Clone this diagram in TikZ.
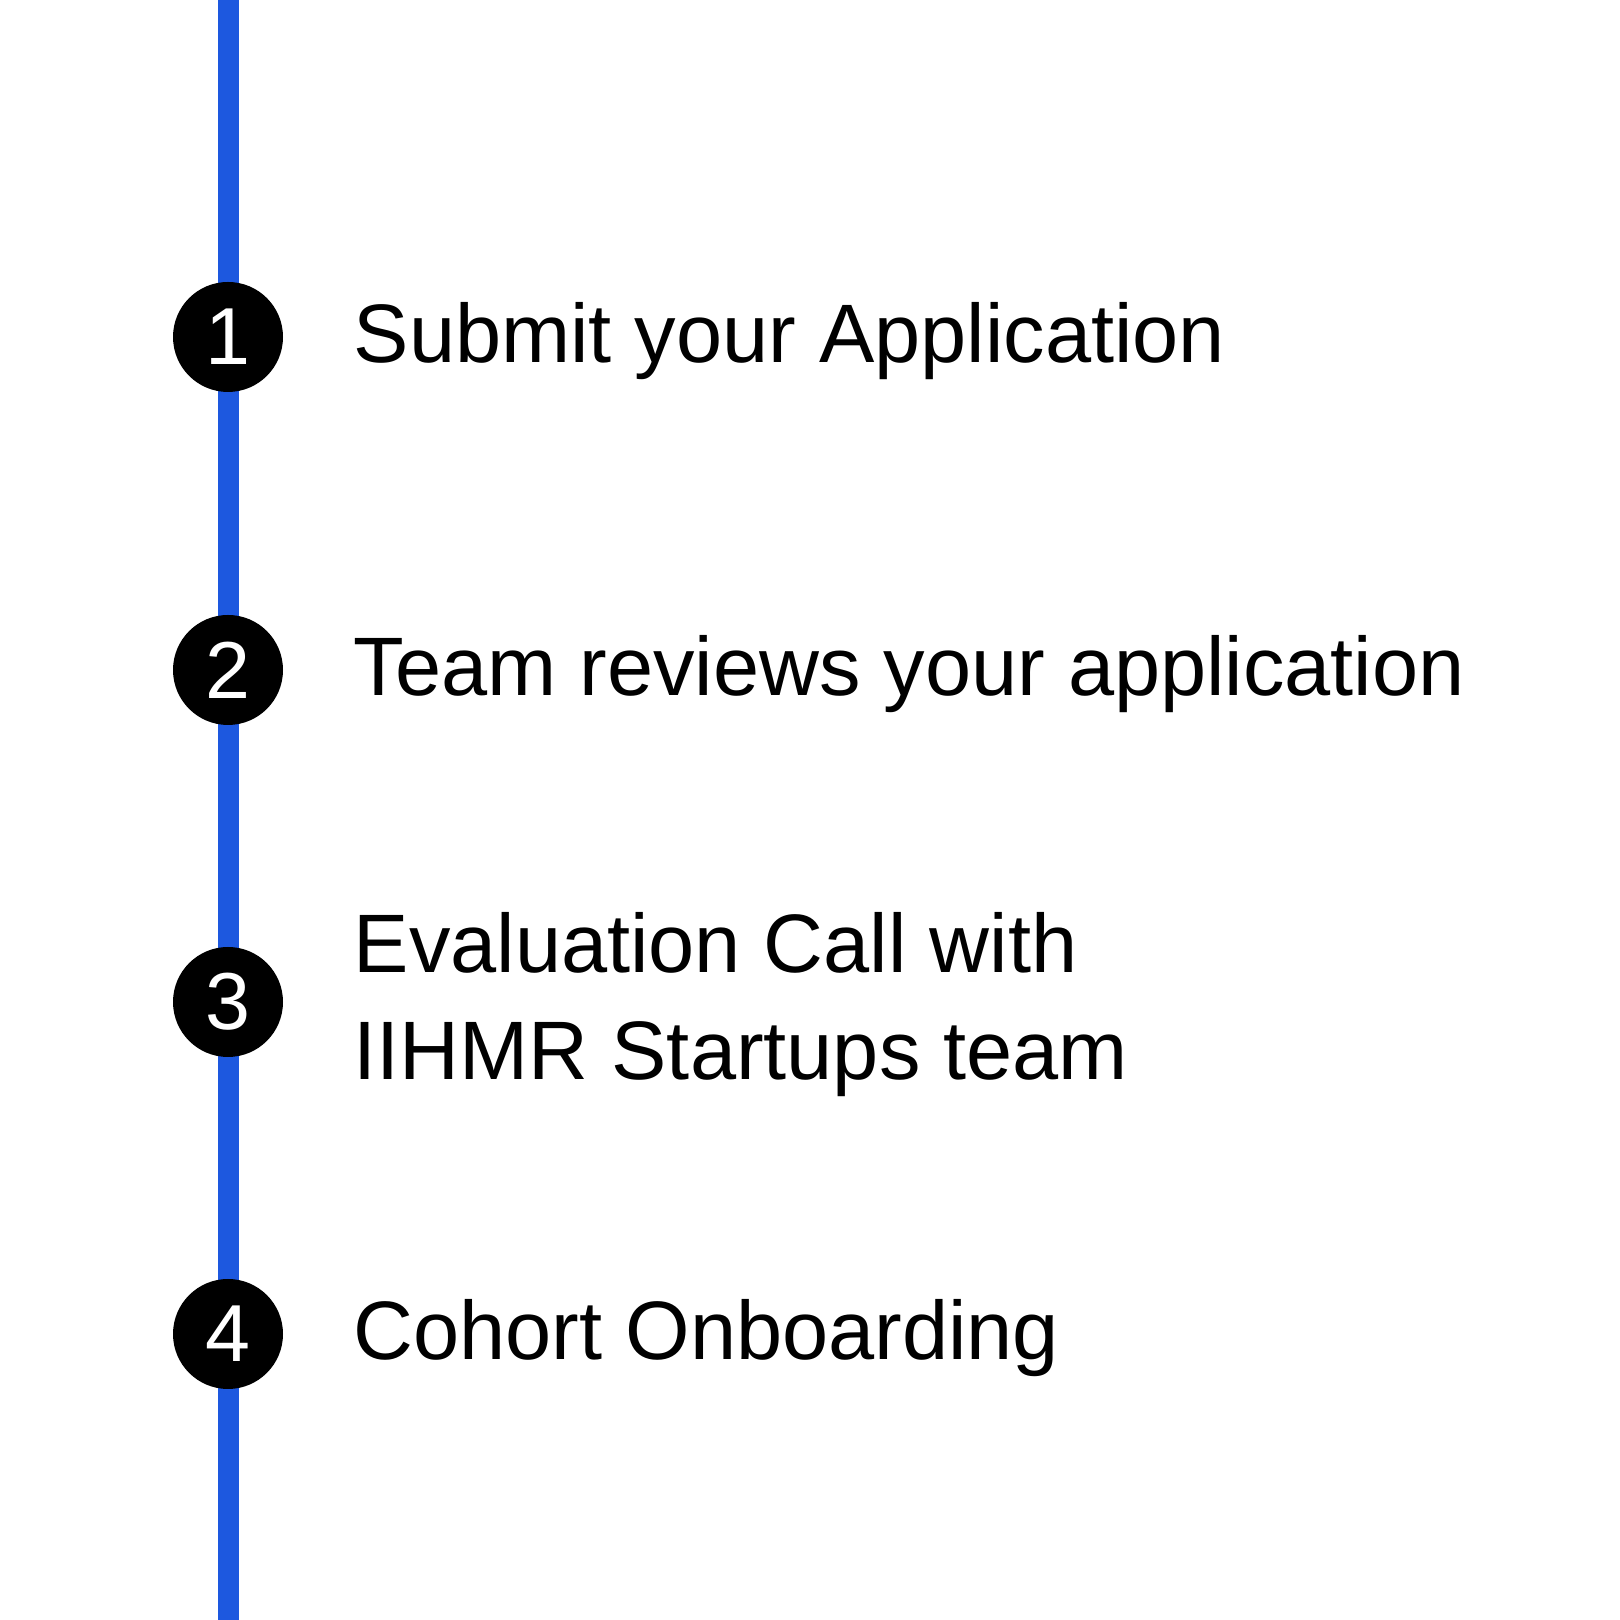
\documentclass[tikz,border=0pt]{standalone}
\usepackage{fontspec}
\setmainfont{Liberation Sans}
\usepackage{xcolor}
\definecolor{linecolor}{HTML}{1D58DF}
\tikzset{
  stepdot/.style={circle,fill=black,text=white,minimum size=1.1cm,inner sep=0pt,
    font=\fontsize{23}{28}\selectfont},
  steptext/.style={anchor=base west,inner sep=0pt,align=left,
    font=\fontsize{23.6}{30.5}\selectfont},
  timeline/.style={draw=linecolor,line width=0.21cm}
}

\begin{document}
\begin{tikzpicture}
\useasboundingbox[fill=white] (0,0) rectangle (16.2,16.2);
\coordinate (linetop) at (2.28,16.2);
\coordinate (linebot) at (2.28,0);
\draw[timeline] (linetop) -- (linebot);

\node[stepdot] (step1) at (2.28,12.83) {1};
\node[stepdot] (step2) at (2.28,9.50) {2};
\node[stepdot] (step3) at (2.28,6.18) {3};
\node[stepdot] (step4) at (2.28,2.86) {4};

% base anchor sits on the last line
\node[steptext] (label1) at (3.53,12.57) {Submit your Application};
\node[steptext] (label2) at (3.53,9.24) {Team reviews your application};
\node[steptext] (label3) at (3.53,5.40) {Evaluation Call with\\IIHMR Startups team};
\node[steptext] (label4) at (3.53,2.60) {Cohort Onboarding};
\end{tikzpicture}
\end{document}
